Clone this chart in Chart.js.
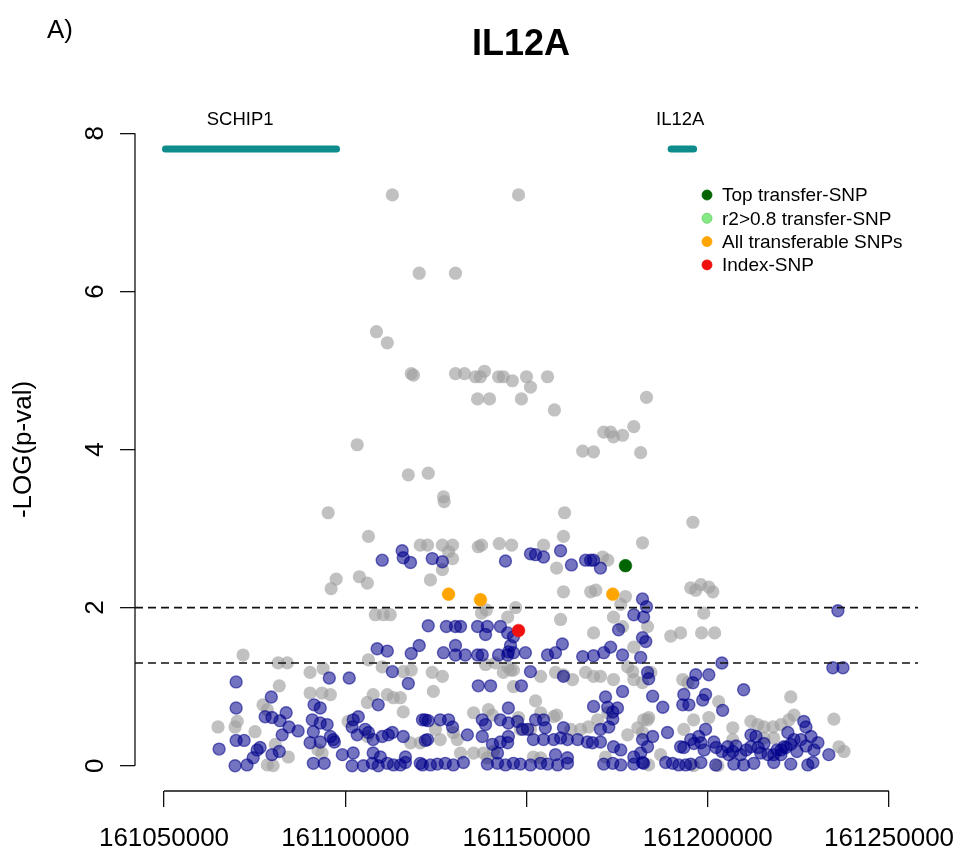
<!DOCTYPE html>
<html>
<head>
<meta charset="utf-8">
<title>IL12A</title>
<script src="https://cdn.jsdelivr.net/npm/chart.js@4.4.1/dist/chart.umd.min.js"></script>
<style>
  html, body { margin: 0; padding: 0; background: #ffffff; }
  canvas { display: block; }
</style>
</head>
<body>
<canvas id="plot" width="964" height="867"></canvas>
<script>
const FONT = '"Liberation Sans", Arial, Helvetica, sans-serif';

// axis ticks and plotted range (base-pair position, -log10 p)
const xTicks = [161050000, 161100000, 161150000, 161200000, 161250000];
const yTicks = [0, 2, 4, 6, 8];
const xRange = [161042000, 161258000];
const yRange = [-0.32, 8.32];
const thresholds = [2, 1.3];

// gene track
const geneNames = ['SCHIP1', 'IL12A'];
const geneStart = [161050400, 161189900];
const geneEnd = [161097600, 161196100];
const geneLabelAt = [161071000, 161192400];
const geneTrackY = 7.8;
const geneLabelY = 8.17;

// SNPs not in LD with the index SNP: [position, -log10(p)]
const otherSnps = [
  [161113000,7.22],[161147800,7.22],[161120400,6.23],[161130400,6.23],[161108600,5.49],[161111600,5.35],
  [161118200,4.96],[161118800,4.94],[161130400,4.96],[161132900,4.96],[161135900,4.92],[161137300,4.92],
  [161138400,4.99],[161142300,4.92],[161143600,4.92],[161146100,4.87],[161150000,4.92],[161151100,4.79],
  [161155800,4.92],[161136500,4.64],[161139800,4.64],[161148600,4.64],[161157700,4.50],[161183100,4.66],
  [161179600,4.29],[161171300,4.22],[161173200,4.22],[161174000,4.16],[161176500,4.18],[161165500,3.98],
  [161168500,3.97],[161181500,3.96],[161103300,4.06],[161117400,3.68],[161122900,3.70],[161095300,3.20],
  [161160500,3.20],[161195900,3.08],[161127100,3.40],[161127300,3.34],[161106400,2.90],[161120700,2.79],
  [161122700,2.79],[161126800,2.79],[161129600,2.79],[161128500,2.71],[161129600,2.62],[161126800,2.48],
  [161123500,2.35],[161136700,2.77],[161137600,2.79],[161142500,2.81],[161145900,2.79],[161154700,2.79],
  [161160200,2.90],[161182000,2.82],[161158300,2.50],[161172400,2.60],[161171000,2.64],[161097500,2.36],
  [161096100,2.24],[161103900,2.39],[161106100,2.31],[161160200,2.20],[161167700,2.20],[161169100,2.22],
  [161177300,2.14],[161195300,2.25],[161196700,2.22],[161198100,2.29],[161200300,2.26],[161201400,2.20],
  [161198900,1.93],[161108300,1.91],[161110500,1.91],[161112400,1.91],[161147000,2.00],[161144800,1.88],
  [161137600,1.93],[161138900,1.97],[161176000,2.04],[161174000,1.88],[161176500,1.76],[161159400,1.85],
  [161168500,1.68],[161183400,1.76],[161179600,1.50],[161177900,1.25],[161179600,1.09],[161182000,1.05],
  [161189800,1.64],[161192500,1.68],[161198300,1.68],[161201900,1.68],[161071800,1.40],[161081500,1.30],
  [161084000,1.30],[161090300,1.18],[161093900,1.23],[161106400,1.34],[161110200,1.25],[161116000,1.19],
  [161118200,1.21],[161124000,1.18],[161126800,1.13],[161124300,0.94],[161138700,1.28],[161141400,1.30],
  [161144800,1.25],[161146400,1.21],[161146400,1.00],[161152500,0.82],[161139500,0.71],[161140600,0.64],
  [161158000,1.18],[161160200,1.15],[161162700,1.09],[161166300,1.18],[161168500,1.13],[161170400,1.13],
  [161174000,1.09],[161179300,1.19],[161184300,1.18],[161143600,1.18],[161145600,1.21],[161153900,1.13],
  [161193100,1.09],[161194500,1.05],[161222900,0.87],[161234800,0.59],[161236200,0.24],[161237600,0.18],
  [161081800,1.01],[161090300,0.92],[161093600,0.92],[161095900,0.90],[161106100,0.80],[161107700,0.90],
  [161111600,0.90],[161113300,0.86],[161115200,0.86],[161116000,0.68],[161077300,0.77],[161078500,0.71],
  [161064900,0.49],[161069600,0.49],[161070200,0.56],[161075100,0.43],[161080700,0.27],[161084300,0.11],
  [161078500,0.01],[161080100,0.00],[161092500,0.20],[161093600,0.16],[161100800,0.56],[161106100,0.37],
  [161118000,0.29],[161120700,0.29],[161158300,0.64],[161148300,0.46],[161151100,0.46],[161124900,0.46],
  [161129800,0.42],[161126200,0.33],[161130900,0.33],[161131800,0.16],[161135400,0.16],[161139200,0.10],
  [161162200,0.46],[161164900,0.46],[161167100,0.49],[161177900,0.39],[161180700,0.48],[161182000,0.42],
  [161183400,0.58],[161151900,0.11],[161153900,0.10],[161171800,0.11],[161203000,0.81],[161183700,0.61],
  [161182300,0.58],[161196100,0.58],[161200300,0.61],[161193400,0.46],[161206900,0.48],[161211900,0.56],
  [161213800,0.52],[161215500,0.49],[161218000,0.49],[161220200,0.52],[161222400,0.58],[161223800,0.64],
  [161206900,0.33],[161215500,0.35],[161218200,0.35],[161187000,0.14],[161183700,0.01],[161196100,0.00],
  [161202800,0.00],[161157500,0.62],[161153900,0.67],[161147800,0.61],[161135400,0.67],[161138100,0.16],
  [161140900,0.18],[161169600,0.58],[161172400,0.67]
];

// SNPs in LD with the index SNP
const ldSnps = [
  [161110200,2.60],[161115700,2.72],[161116000,2.63],[161118000,2.57],[161124000,2.62],[161126800,2.58],
  [161144200,2.59],[161151100,2.68],[161152500,2.67],[161154700,2.64],[161159400,2.72],[161162400,2.54],
  [161166300,2.60],[161167700,2.60],[161168500,2.60],[161170400,2.50],[161182000,2.11],[161183100,2.01],
  [161182300,1.88],[161179600,1.91],[161235900,1.96],[161122900,1.77],[161127900,1.76],[161130400,1.76],
  [161136500,1.76],[161139200,1.76],[161138700,1.66],[161142800,1.76],[161144800,1.68],[161146400,1.63],
  [161131800,1.76],[161159900,1.54],[161175400,1.72],[161182000,1.62],[161173200,1.50],[161108800,1.48],
  [161111600,1.45],[161118200,1.42],[161120400,1.52],[161127100,1.43],[161130400,1.52],[161130400,1.40],
  [161133100,1.40],[161136500,1.40],[161137800,1.40],[161142300,1.40],[161144800,1.40],[161145000,1.44],
  [161145600,1.52],[161146400,1.43],[161149700,1.43],[161155800,1.40],[161158000,1.43],[161165500,1.38],
  [161168500,1.39],[161171300,1.43],[161176500,1.40],[161181500,1.37],[161182900,1.57],[161203900,1.30],
  [161234500,1.24],[161237300,1.24],[161151100,1.19],[161160200,1.13],[161183400,1.18],[161183700,1.10],
  [161196700,1.15],[161200300,1.15],[161195900,1.05],[161069900,1.06],[161095600,1.11],[161101100,1.11],
  [161113000,1.19],[161117400,1.04],[161136700,1.01],[161140100,1.01],[161148600,1.01],[161171800,0.87],
  [161176500,0.94],[161184800,0.88],[161209900,0.96],[161193400,0.90],[161199400,0.90],[161198600,0.83],
  [161193100,0.77],[161194800,0.77],[161079600,0.87],[161069900,0.73],[161091400,0.77],[161093100,0.73],
  [161109100,0.77],[161168500,0.75],[161172400,0.74],[161175100,0.73],[161187600,0.74],[161145000,0.73],
  [161204100,0.70],[161173800,0.68],[161077900,0.62],[161079800,0.61],[161082000,0.57],[161083700,0.67],
  [161084500,0.49],[161087000,0.44],[161082600,0.39],[161090900,0.58],[161093100,0.54],[161095000,0.52],
  [161091200,0.43],[161090300,0.29],[161096700,0.33],[161099200,0.14],[161102200,0.58],[161103600,0.62],
  [161101900,0.49],[161103300,0.39],[161105500,0.46],[161106400,0.42],[161107700,0.33],[161110200,0.37],
  [161111900,0.39],[161113000,0.42],[161116000,0.37],[161121300,0.58],[161122900,0.57],[161065200,0.21],
  [161069900,0.32],[161072100,0.32],[161075700,0.20],[161076500,0.23],[161079800,0.14],[161081800,0.18],
  [161074600,0.10],[161072900,0.01],[161069600,0.00],[161091200,0.03],[161094200,0.03],[161102200,0.16],
  [161101900,0.00],[161107700,0.16],[161109700,0.11],[161111600,0.03],[161113300,0.01],[161115200,0.01],
  [161116600,0.11],[161116600,0.04],[161121300,0.01],[161122100,0.58],[161126200,0.58],[161128500,0.58],
  [161129600,0.49],[161137800,0.58],[161138700,0.52],[161142800,0.58],[161145000,0.54],[161147500,0.56],
  [161148900,0.46],[161150300,0.46],[161152500,0.58],[161154700,0.58],[161155200,0.48],[161160200,0.48],
  [161170400,0.46],[161172700,0.49],[161173800,0.59],[161122700,0.33],[161133700,0.39],[161137800,0.37],
  [161140600,0.27],[161142800,0.30],[161144800,0.29],[161145000,0.37],[161151900,0.33],[161154700,0.33],
  [161157500,0.33],[161159400,0.35],[161161300,0.33],[161164100,0.33],[161166800,0.30],[161168200,0.29],
  [161170400,0.30],[161174000,0.24],[161176000,0.20],[161179600,0.11],[161181500,0.16],[161183400,0.24],
  [161142000,0.16],[161158000,0.14],[161161300,0.10],
  [161120700,0.03],[161123500,0.01],[161125400,0.02],[161127600,0.03],[161129800,0.01],[161132600,0.04],
  [161139200,0.02],[161142000,0.03],[161144200,0.01],[161146400,0.03],[161148300,0.02],[161151100,0.01],
  [161153900,0.03],[161155800,0.02],[161158600,0.01],[161161300,0.03],[161171300,0.02],[161173800,0.03],
  [161176000,0.01],[161179600,0.02],[161182300,0.03],
  [161188900,0.42],[161184800,0.37],[161182000,0.33],[161182000,0.04],[161199400,0.46],[161197500,0.37],
  [161192500,0.24],[161195300,0.33],[161198100,0.29],[161201700,0.30],[161205500,0.24],[161206900,0.18],
  [161209100,0.14],[161211900,0.39],[161213300,0.37],[161211900,0.24],[161214600,0.16],[161216600,0.14],
  [161218200,0.14],[161220200,0.14],[161222100,0.42],[161221000,0.24],[161223800,0.33],[161225700,0.33],
  [161226500,0.56],[161227100,0.49],[161228500,0.37],[161230400,0.29],[161233400,0.14],[161205800,0.14],
  [161220200,0.20],[161222900,0.27],[161122100,0.32],
  [161188400,0.04],[161190300,0.03],[161192000,0.01],[161193900,0.01],[161195300,0.02],[161198100,0.04],
  [161202200,0.01],[161207200,0.02],[161209900,0.01],[161212700,0.03],[161218200,0.04],[161222900,0.02],
  [161227600,0.01],[161229000,0.04],
  [161097000,0.30],[161095900,0.37],[161093100,0.30],[161105000,0.00],[161107500,0.03],[161109100,0.00],
  [161193400,0.23],[161196200,0.28],[161199000,0.20],[161202300,0.23],[161203900,0.18],[161207800,0.25],
  [161210600,0.20],[161213900,0.23],[161215500,0.28],[161219100,0.20],[161221600,0.23],[161224600,0.18],
  [161227100,0.25],[161229300,0.20]
];

// highlighted SNPs
const topTransferSnp = [[161177300, 2.53]];
const r2TransferSnps = [];
const transferableSnps = [[161128500, 2.17], [161137300, 2.10], [161173800, 2.17]];
const indexSnp = [[161147800, 1.71]];

const toXY = arr => arr.map(([x, y]) => ({ x, y }));

const pointSet = (label, rows, fill, stroke, radius, borderWidth, order) => ({
  label, data: toXY(rows), backgroundColor: fill, borderColor: stroke,
  pointRadius: radius, pointHoverRadius: radius, borderWidth, pointBorderWidth: borderWidth, order
});

const datasets = [
  pointSet('Other SNPs', otherSnps, 'rgba(160,160,160,0.65)', 'rgba(160,160,160,0)', 6.6, 0, 10),
  pointSet('LD SNPs', ldSnps, 'rgba(0,0,139,0.55)', 'rgba(0,0,139,0.55)', 6.0, 1.4, 9),
  pointSet('All transferable SNPs', transferableSnps, '#FFA500', '#FFA500', 6.4, 0.5, 5),
  pointSet('r2>0.8 transfer-SNP', r2TransferSnps, '#86E886', '#5FCF5F', 6.4, 0.5, 5),
  pointSet('Top transfer-SNP', topTransferSnp, '#006400', '#006400', 6.4, 0.5, 4),
  pointSet('Index-SNP', indexSnp, '#F01010', '#F01010', 6.4, 0.5, 4)
];

thresholds.forEach(t => datasets.push({
  label: 'threshold ' + t, showLine: true, data: [{ x: xRange[0], y: t }, { x: xRange[1], y: t }],
  borderColor: '#111111', borderWidth: 1.6, borderDash: [8, 5], pointRadius: 0, order: 2
}));

geneNames.forEach((g, i) => datasets.push({
  label: g, showLine: true, data: [{ x: geneStart[i], y: geneTrackY }, { x: geneEnd[i], y: geneTrackY }],
  borderColor: '#0E8C8C', borderWidth: 7, borderCapStyle: 'round', pointRadius: 0, order: 1
}));

const legendOrder = ['Top transfer-SNP', 'r2>0.8 transfer-SNP', 'All transferable SNPs', 'Index-SNP'];

const decorations = {
  id: 'decorations',
  beforeDraw(chart) {
    const c = chart.ctx;
    c.save();
    c.fillStyle = '#ffffff';
    c.fillRect(0, 0, chart.width, chart.height);
    c.restore();
  },
  afterDraw(chart) {
    const c = chart.ctx;
    const xs = chart.scales.x, ys = chart.scales.y;
    const area = chart.chartArea;
    c.save();
    c.strokeStyle = '#111111';
    c.lineWidth = 1.3;
    // axis lines spanning the outer ticks only
    c.beginPath();
    c.moveTo(xs.getPixelForValue(xTicks[0]), area.bottom);
    c.lineTo(xs.getPixelForValue(xTicks[xTicks.length - 1]), area.bottom);
    c.moveTo(area.left, ys.getPixelForValue(yTicks[0]));
    c.lineTo(area.left, ys.getPixelForValue(yTicks[yTicks.length - 1]));
    c.stroke();

    c.fillStyle = '#000000';
    // y tick labels, written along the axis
    c.font = '26px ' + FONT;
    c.textAlign = 'center';
    c.textBaseline = 'middle';
    yTicks.forEach(v => {
      c.save();
      c.translate(area.left - 39, ys.getPixelForValue(v));
      c.rotate(-Math.PI / 2);
      c.fillText(String(v), 0, 0);
      c.restore();
    });

    // panel letter and title
    c.textAlign = 'left';
    c.font = '26px ' + FONT;
    c.fillText('A)', 47, 31);
    c.textAlign = 'center';
    c.font = 'bold 36px ' + FONT;
    c.fillText('IL12A', 521, 45);

    // gene names above the track
    c.font = '18.5px ' + FONT;
    geneNames.forEach((g, i) => {
      c.fillText(g, xs.getPixelForValue(geneLabelAt[i]), ys.getPixelForValue(geneLabelY));
    });

    // legend
    c.font = '19px ' + FONT;
    c.textAlign = 'left';
    legendOrder.forEach((name, i) => {
      const ds = chart.data.datasets.find(d => d.label === name);
      const yy = 195 + i * 23.3;
      c.beginPath();
      c.arc(707, yy, 5, 0, Math.PI * 2);
      c.fillStyle = ds.backgroundColor;
      c.fill();
      c.lineWidth = 0.8;
      c.strokeStyle = ds.borderColor;
      c.stroke();
      c.fillStyle = '#000000';
      c.fillText(name, 722, yy + 1);
    });
    c.restore();
  }
};

new Chart(document.getElementById('plot'), {
  type: 'scatter',
  data: { datasets },
  options: {
    responsive: false,
    animation: false,
    events: [],
    layout: { padding: { top: 108, right: 46, bottom: 0, left: 0 } },
    plugins: { legend: { display: false }, tooltip: { enabled: false }, title: { display: false } },
    scales: {
      x: {
        type: 'linear', min: xRange[0], max: xRange[1],
        afterBuildTicks: s => { s.ticks = xTicks.map(v => ({ value: v })); },
        afterFit: s => { s.height = 76; s.paddingLeft = 0; s.paddingRight = 0; },
        ticks: { callback: v => String(v), font: { family: FONT, size: 26 }, color: '#000000',
                 padding: 16, maxRotation: 0, minRotation: 0, autoSkip: false },
        grid: { drawOnChartArea: false, drawTicks: true, tickLength: 16, color: '#111111', lineWidth: 1.3 },
        border: { display: false }
      },
      y: {
        type: 'linear', min: yRange[0], max: yRange[1],
        afterBuildTicks: s => { s.ticks = yTicks.map(v => ({ value: v })); },
        afterFit: s => { s.width = 135; s.paddingTop = 0; s.paddingBottom = 0; },
        ticks: { display: false },
        grid: { drawOnChartArea: false, drawTicks: true, tickLength: 15, color: '#111111', lineWidth: 1.3 },
        border: { display: false },
        title: { display: true, text: '-LOG(p-val)', font: { family: FONT, size: 26 }, color: '#000000',
                 padding: { top: 8, bottom: 0 } }
      }
    }
  },
  plugins: [decorations]
});
</script>
</body>
</html>
